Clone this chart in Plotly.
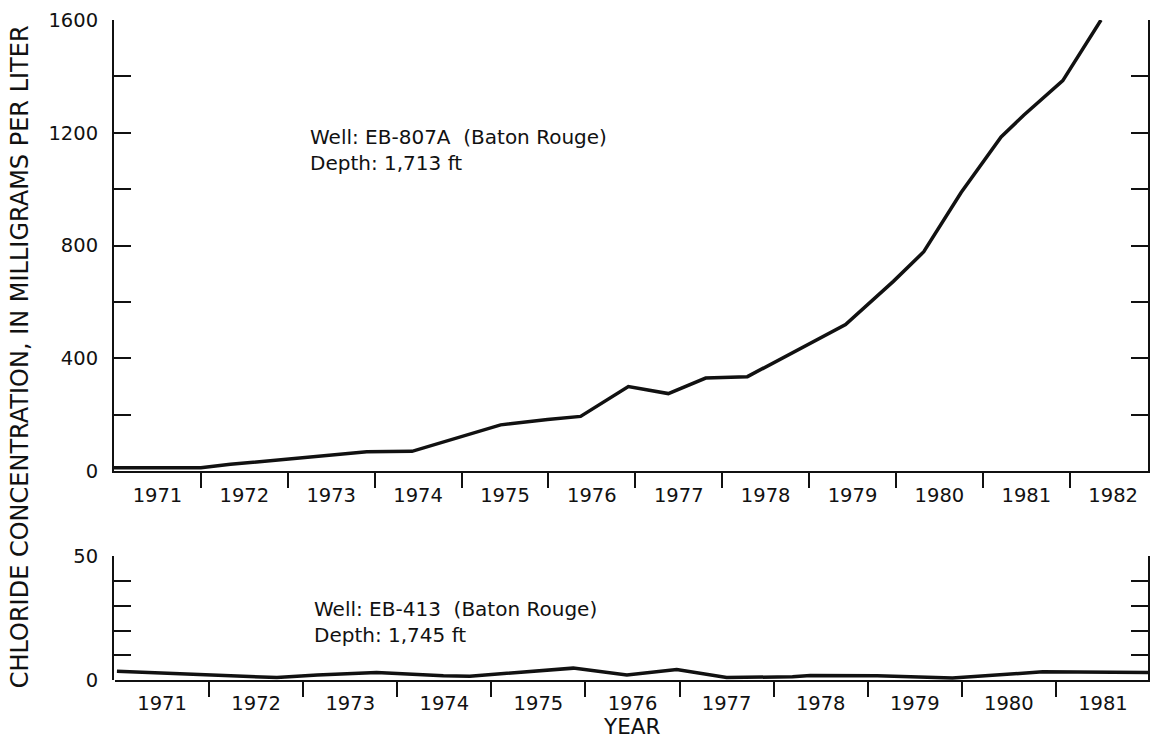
import plotly.graph_objects as go

# Chloride record, well EB-807A (Baton Rouge), depth 1,713 ft
years_eb807a = [1971.0, 1972.0, 1972.34, 1973.91, 1974.43, 1975.01, 1975.45, 1975.99,
                1976.37, 1976.92, 1977.38, 1977.81, 1978.29, 1979.42, 1979.97, 1980.32,
                1980.75, 1981.21, 1981.47, 1981.92, 1982.36]
chloride_eb807a = [12, 12, 24, 69, 70, 122, 164, 183,
                   194, 300, 275, 330, 335, 520, 673, 778,
                   988, 1185, 1262, 1385, 1600]

# Chloride record, well EB-413 (Baton Rouge), depth 1,745 ft
years_eb413 = [1971.02, 1971.98, 1972.72, 1973.15, 1973.78, 1974.49, 1974.77, 1975.87,
               1976.44, 1976.97, 1977.5, 1978.2, 1978.39, 1979.1, 1979.9, 1980.86, 1981.98]
chloride_eb413 = [3.5, 2.2, 1.0, 2.0, 3.0, 1.7, 1.5, 4.8,
                  2.0, 4.2, 1.0, 1.3, 1.8, 1.7, 0.8, 3.3, 3.0]

# Year labels sit between the yearly boundary ticks
years_top_panel = list(range(1971, 1983))
years_bottom_panel = list(range(1971, 1982))

y_ticks_top = list(range(0, 1601, 200))
y_labels_top = [str(v) if v % 400 == 0 else "" for v in y_ticks_top]
y_ticks_bottom = list(range(0, 51, 10))
y_labels_bottom = ["0", "", "", "", "", "50"]

INK = "#111111"
FONT = "DejaVu Sans"

fig = go.Figure()
fig.add_trace(go.Scatter(x=years_eb807a, y=chloride_eb807a, mode="lines",
                         line=dict(color=INK, width=3.5), xaxis="x", yaxis="y",
                         showlegend=False, cliponaxis=True))
fig.add_trace(go.Scatter(x=years_eb413, y=chloride_eb413, mode="lines",
                         line=dict(color=INK, width=3.5), xaxis="x2", yaxis="y2",
                         showlegend=False))

tickfont = dict(family=FONT, size=19.5, color=INK)


def year_axis(domain, rng, years, anchor):
    # labels centred in each year, boundary ticks drawn as minor ticks below the axis
    return dict(domain=domain, range=rng, anchor=anchor, side="bottom",
                tickmode="array", tickvals=[y + 0.5 for y in years],
                ticktext=[str(y) for y in years], ticks="", ticklabelstandoff=5,
                tickfont=tickfont, showline=True, linecolor=INK, linewidth=2,
                showgrid=False, zeroline=False,
                minor=dict(tickmode="array", tickvals=years[1:], ticks="outside",
                           ticklen=15, tickwidth=2, tickcolor=INK, showgrid=False))


def top_edge_axis(domain, rng, years, anchor, overlay):
    # yearly ticks pointing into the plot from the top frame line
    return dict(domain=domain, range=rng, anchor=anchor, overlaying=overlay, side="top",
                tickmode="array", tickvals=years[1:], ticks="inside", ticklen=15,
                tickwidth=2, tickcolor=INK, showticklabels=False, showline=True,
                linecolor=INK, linewidth=2, showgrid=False, zeroline=False)


def value_axis(domain, rng, vals, labels):
    return dict(domain=domain, range=rng, tickmode="array", tickvals=vals,
                ticktext=labels, ticks="inside", ticklen=17, tickwidth=2,
                tickcolor=INK, mirror="ticks", showline=True, linecolor=INK,
                linewidth=2, showgrid=False, zeroline=False, tickfont=tickfont,
                ticklabelstandoff=10)


top_range = [1971, 1982.9]
bottom_range = [1971, 1982]

fig.update_layout(
    width=1159, height=740,
    margin=dict(l=114, r=9, t=18, b=60),
    paper_bgcolor="white", plot_bgcolor="white",
    xaxis=year_axis([0, 0.998], top_range, years_top_panel, "y"),
    xaxis3=top_edge_axis([0, 0.998], top_range, years_top_panel, "y", "x"),
    yaxis=value_axis([0.3165, 1], [0, 1600], y_ticks_top, y_labels_top),
    xaxis2=year_axis([0.001, 1], bottom_range, years_bottom_panel, "y2"),
    xaxis4=top_edge_axis([0.001, 1], bottom_range, years_bottom_panel, "y2", "x2"),
    yaxis2=value_axis([0, 0.1873], [0, 50], y_ticks_bottom, y_labels_bottom),
)

notefont = dict(family=FONT, size=20, color=INK)
fig.add_annotation(x=0.1876, y=0.8036, xref="paper", yref="paper", xanchor="left",
                   yanchor="middle", showarrow=False, align="left", font=notefont,
                   text="Well: EB-807A  (Baton Rouge)<br>Depth: 1,713 ft")
fig.add_annotation(x=0.1915, y=0.0876, xref="paper", yref="paper", xanchor="left",
                   yanchor="middle", showarrow=False, align="left", font=notefont,
                   text="Well: EB-413  (Baton Rouge)<br>Depth: 1,745 ft")

fig.add_annotation(x=0.4995, y=-0.071, xref="paper", yref="paper", showarrow=False,
                   xanchor="center", yanchor="middle",
                   font=dict(family=FONT, size=21.5, color=INK), text="YEAR")
fig.add_annotation(x=-0.0907, y=0.489, xref="paper", yref="paper", showarrow=False,
                   xanchor="center", yanchor="middle", textangle=-90,
                   font=dict(family=FONT, size=24, color=INK),
                   text="CHLORIDE CONCENTRATION, IN MILLIGRAMS PER LITER")

fig.write_html("out.html")
